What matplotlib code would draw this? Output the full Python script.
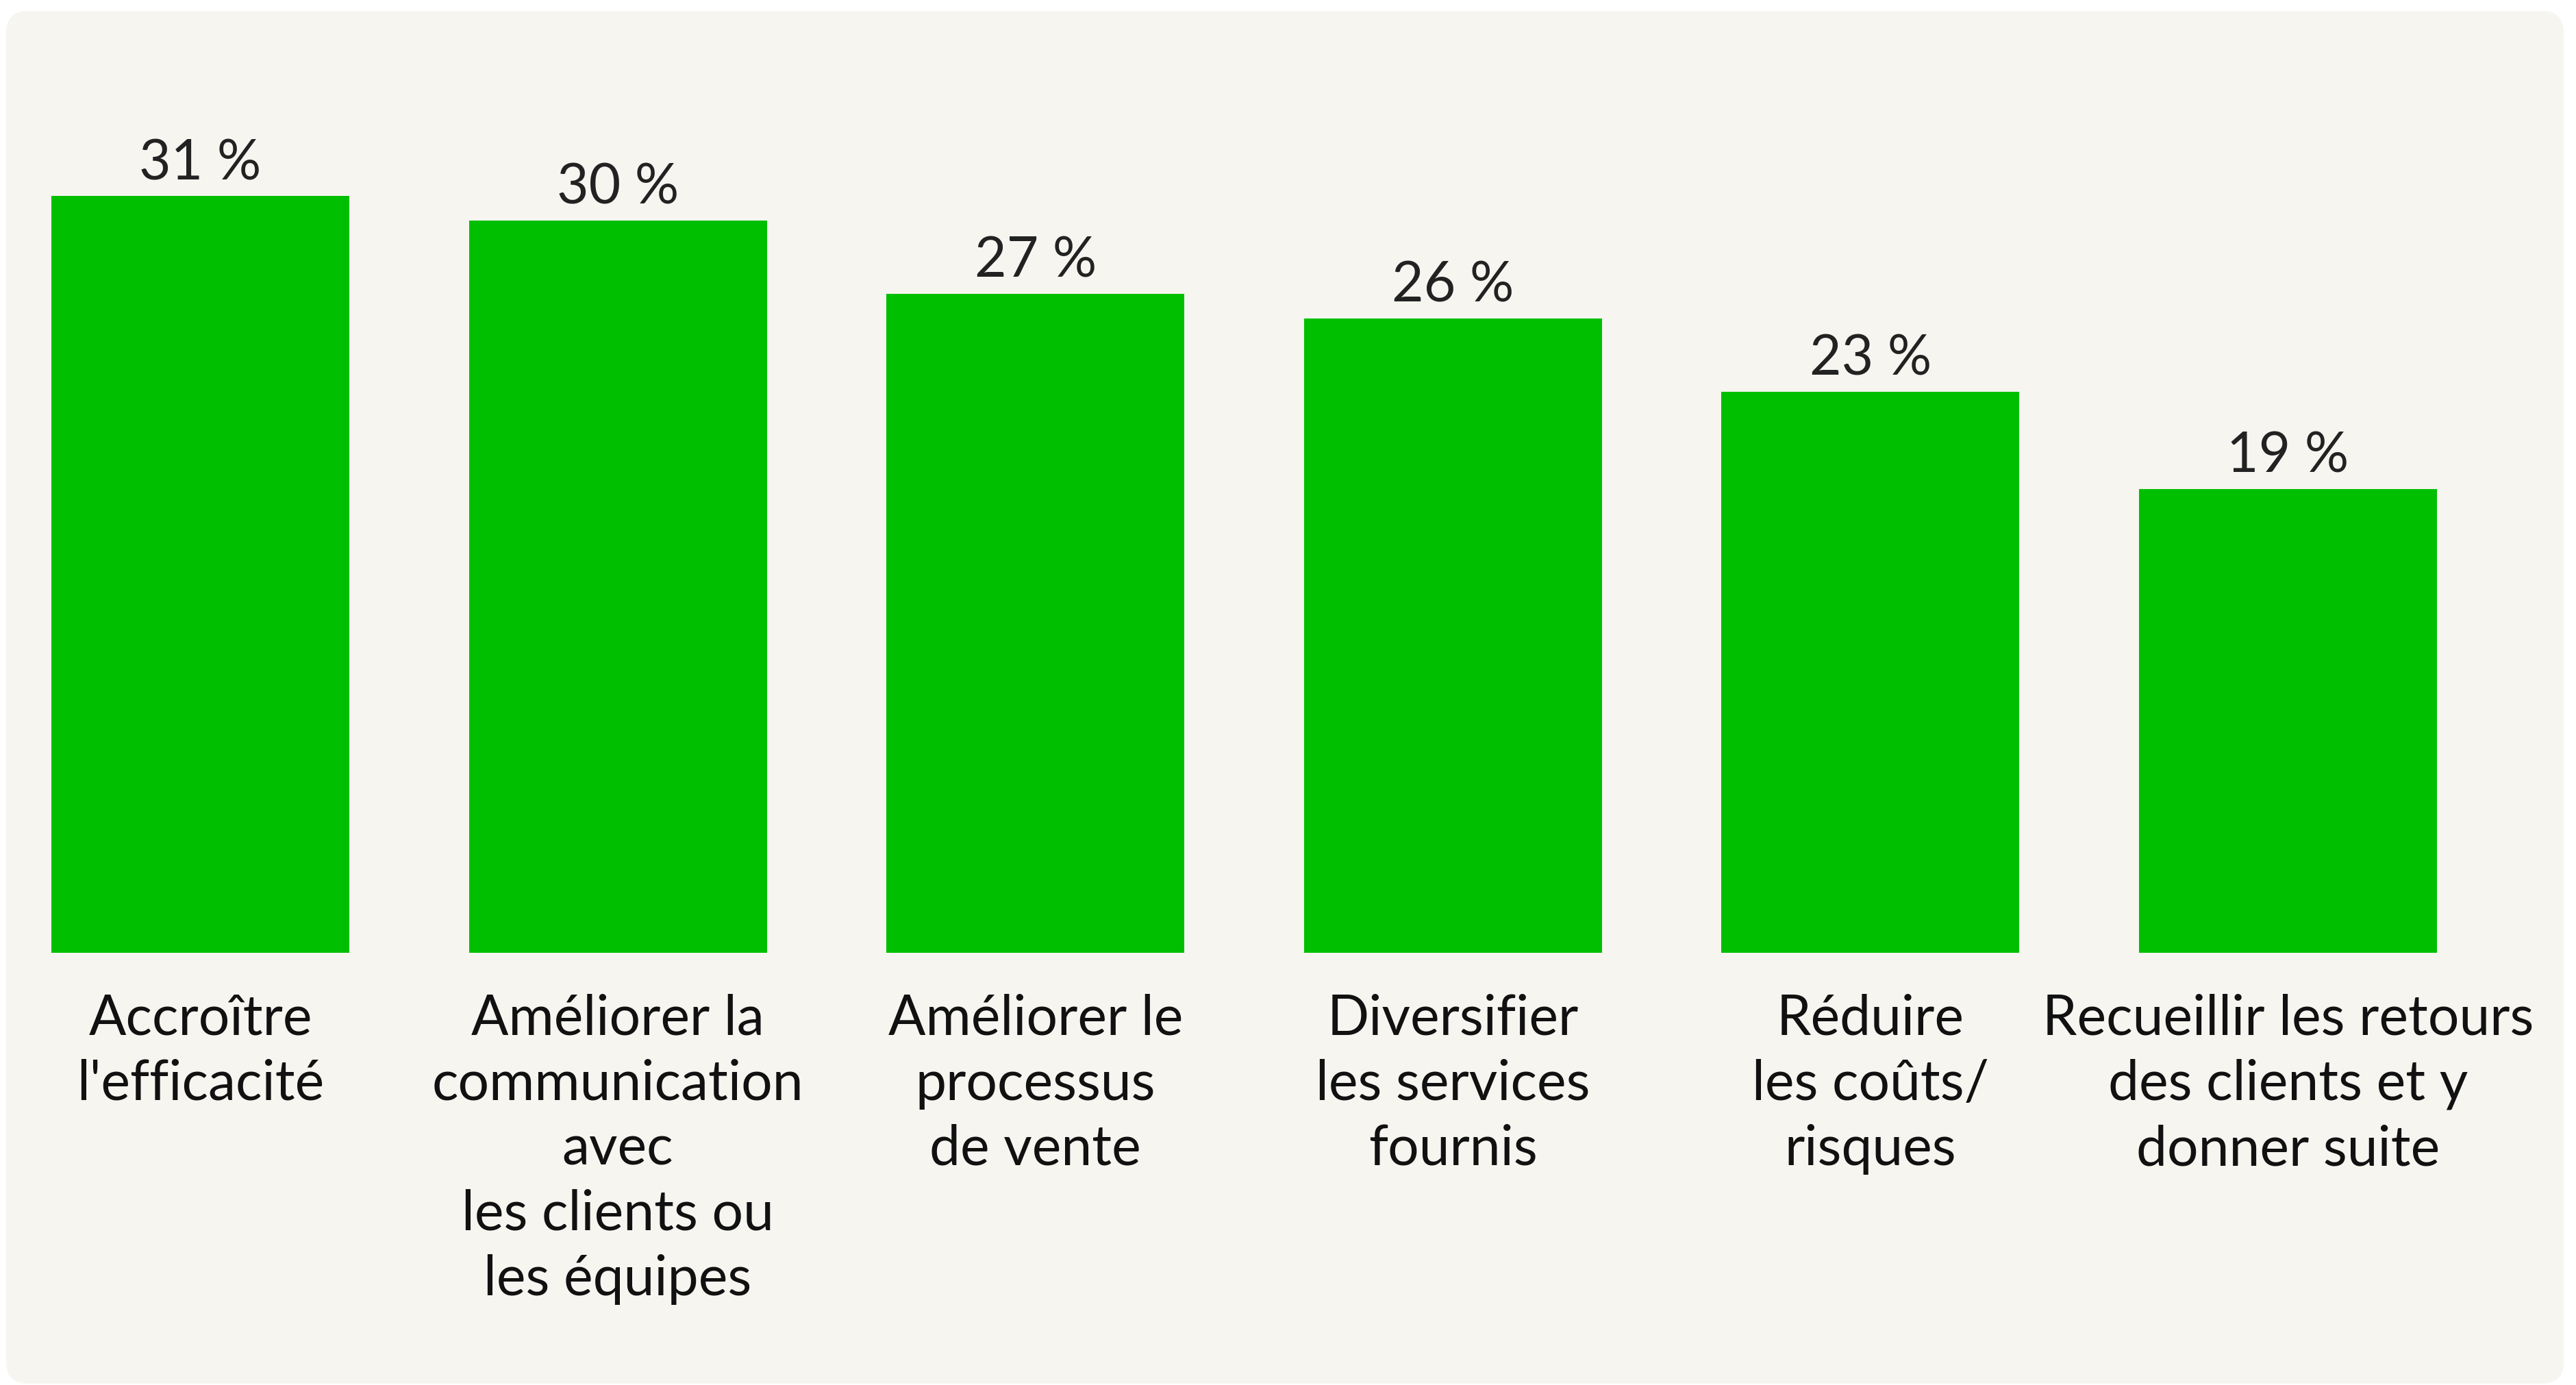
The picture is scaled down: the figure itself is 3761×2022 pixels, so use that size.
import matplotlib.pyplot as plt
from matplotlib.patches import FancyBboxPatch

# Données
categories = [
    "Accroître\nl'efficacité",
    "Améliorer la\ncommunication\navec\nles clients ou\nles équipes",
    "Améliorer le\nprocessus\nde vente",
    "Diversifier\nles services\nfournis",
    "Réduire\nles coûts/\nrisques",
    "Recueillir les retours\ndes clients et y\ndonner suite",
]
values = [31, 30, 27, 26, 23, 19]
value_labels = ["31 %", "30 %", "27 %", "26 %", "23 %", "19 %"]

green = "#00BF00"
bg = "#F6F5F0"

W, H = 3762, 2022
fig = plt.figure(figsize=(W / 100, H / 100), dpi=100)
fig.patch.set_facecolor("white")

# fond arrondi (axes de fond en pixels)
bg_ax = fig.add_axes([0, 0, 1, 1], zorder=0)
bg_ax.set_xlim(0, W)
bg_ax.set_ylim(H, 0)
bg_ax.axis("off")
bg_ax.add_patch(FancyBboxPatch((9, 16), 3743 - 9, 2020 - 16,
                               boxstyle="round,pad=0,rounding_size=32",
                               facecolor=bg, edgecolor="none"))

ax = fig.add_axes([0, 0, 1, 1], zorder=1)
ax.patch.set_alpha(0)
ax.axis("off")

# échelle : centre barre 1 à 292.5 px, pas 609.6 px ; base à 1391 px, 35.63 px par %
x0, step = 292.5, 609.6
y0, ppu = 1391, 35.63
ax.set_xlim(-x0 / step, (W - x0) / step)
ax.set_ylim(-(H - y0) / ppu, y0 / ppu)

xs = range(len(values))
ax.bar(xs, values, width=0.7136, color=green, zorder=2)

for i, v in enumerate(values):
    ax.annotate(value_labels[i], (i, v), xytext=(0, 17.5), textcoords="offset points",
                ha="center", va="baseline", fontsize=58, color="#222222",
                family="Lato")

for i, lab in enumerate(categories):
    ax.annotate(lab, (i, 0), xytext=(0, -43), textcoords="offset points",
                ha="center", va="top", fontsize=58, color="#111111",
                family="Lato", linespacing=1.35)

fig.savefig("out.png", dpi=100, facecolor="white")
